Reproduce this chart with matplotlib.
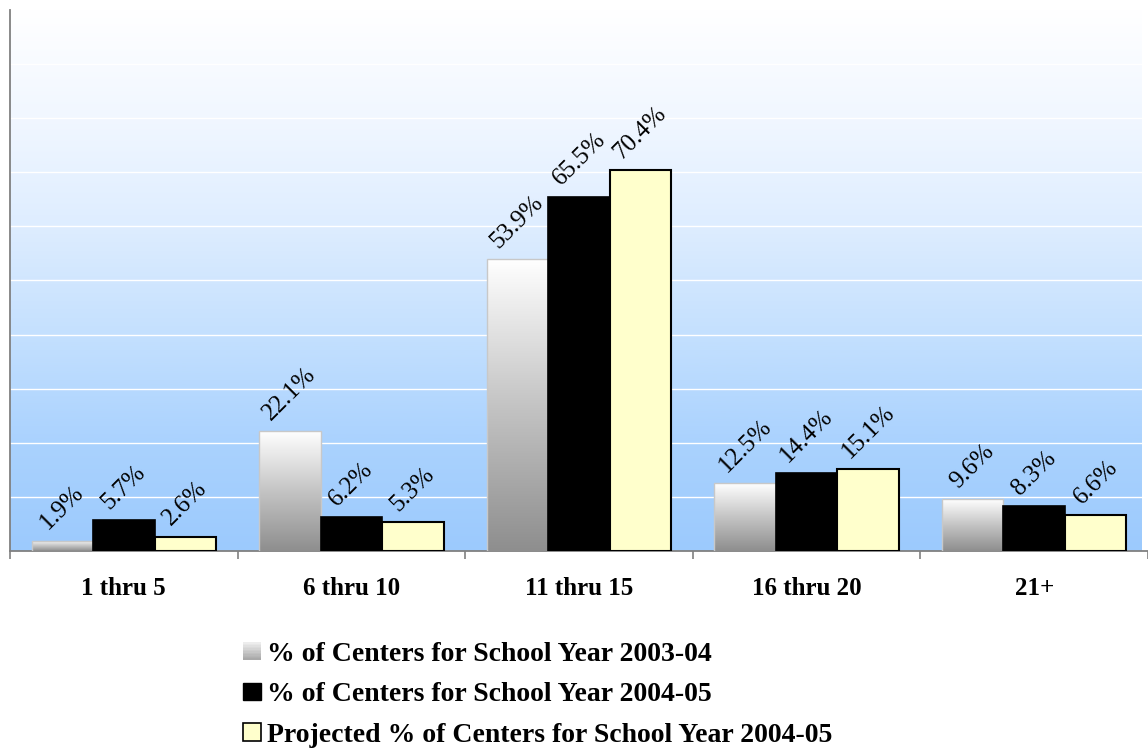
import numpy as np
import matplotlib
matplotlib.use('Agg')
import matplotlib.pyplot as plt
from matplotlib.colors import LinearSegmentedColormap
from matplotlib.patches import Patch, Rectangle
from matplotlib.legend_handler import HandlerBase

plt.rcParams['font.family'] = ['Liberation Serif', 'DejaVu Serif']

categories = ['1 thru 5', '6 thru 10', '11 thru 15', '16 thru 20', '21+']
centers_0304 = [1.9, 22.1, 53.9, 12.5, 9.6]
centers_0405 = [5.7, 6.2, 65.5, 14.4, 8.3]
projected_0405 = [2.6, 5.3, 70.4, 15.1, 6.6]
series_labels = ['% of Centers for School Year 2003-04',
                 '% of Centers for School Year 2004-05',
                 'Projected % of Centers for School Year 2004-05']

bg_cmap = LinearSegmentedColormap.from_list(
    'bg', [(0.0, '#9ccafd'), (0.2, '#aad2fe'), (0.4, '#c4e0fe'),
           (0.6, '#deedff'), (0.8, '#f1f7ff'), (1.0, '#ffffff')])
bar_cmap = LinearSegmentedColormap.from_list('bar', ['#8e8e8e', '#c4c4c4', '#ffffff'])


class GradientHandler(HandlerBase):
    # legend key drawn as a stack of thin strips, light at the top
    def create_artists(self, legend, orig_handle, xdescent, ydescent,
                       width, height, fontsize, trans):
        n = 12
        arts = []
        for i in range(n):
            c = bar_cmap(0.25 + 0.6 * i / (n - 1))
            arts.append(Rectangle((-xdescent, -ydescent + height * i / n),
                                  width, height / n + 0.3, facecolor=c,
                                  edgecolor='none', transform=trans))
        return arts


def main():
    fig = plt.figure(figsize=(11.48, 7.54), dpi=100)
    W, H = 1148, 754
    ax = fig.add_axes([10 / W, (H - 551) / H, 1138 / W, 541 / H])

    n = len(categories)
    x = np.arange(n)
    bw = 0.27
    xmax = -0.5 + 1138 / 229.0

    # background gradient
    grad = np.linspace(0, 1, 256).reshape(-1, 1)
    ax.imshow(grad, extent=[-0.5, xmax, 0, 100], origin='lower',
              aspect='auto', cmap=bg_cmap, zorder=-10)

    for yv in range(10, 100, 10):
        ax.axhline(yv, color='white', linewidth=1.0, zorder=1)

    b1 = ax.bar(x - bw, centers_0304, bw, facecolor='none',
                edgecolor='#c8c8c8', linewidth=1.0, zorder=3)
    for r in b1:
        x0, y0 = r.get_x(), r.get_y()
        im = ax.imshow(grad, extent=[x0, x0 + r.get_width(), y0, y0 + r.get_height()],
                       origin='lower', aspect='auto', cmap=bar_cmap, zorder=2)
        im.set_clip_path(r)
    b2 = ax.bar(x, centers_0405, bw, color='black', edgecolor='black',
                linewidth=1.2, zorder=3)
    b3 = ax.bar(x + bw, projected_0405, bw, color='#ffffcc', edgecolor='black',
                linewidth=1.5, zorder=3)

    for bars, vals in [(b1, centers_0304), (b2, centers_0405), (b3, projected_0405)]:
        for r, v in zip(bars, vals):
            ax.annotate(f'{v}%', (r.get_x() + r.get_width() / 2, r.get_height()),
                        xytext=(0, 5), textcoords='offset points',
                        ha='center', va='bottom', rotation=45,
                        fontsize=18, zorder=5)

    ax.set_xlim(-0.5, xmax)
    ax.set_ylim(0, 100)
    ax.set_yticks([])
    ax.set_xticks(np.arange(n + 1) - 0.5)
    ax.set_xticklabels([])
    ax.set_xticks(x, minor=True)
    ax.set_xticklabels(categories, minor=True, fontsize=18, fontweight='bold')
    ax.tick_params(axis='x', which='major', direction='out', length=6,
                   color='#808080', width=1.2)
    ax.tick_params(axis='x', which='minor', length=0, pad=19)
    for s in ['top', 'right']:
        ax.spines[s].set_visible(False)
    for s in ['left', 'bottom']:
        ax.spines[s].set_color('#808080')
        ax.spines[s].set_linewidth(1.3)

    handles = [Patch(), Patch(facecolor='black', edgecolor='black'),
               Patch(facecolor='#ffffcc', edgecolor='black', linewidth=1.2)]
    fig.legend(handles, series_labels, loc='upper left',
               bbox_to_anchor=(229 / W, (H - 628) / H), frameon=False,
               prop={'weight': 'bold', 'size': 20}, borderpad=0,
               handlelength=0.64, handleheight=0.6, handletextpad=0.22,
               labelspacing=0.56, handler_map={handles[0]: GradientHandler()})

    fig.savefig('out.png', dpi=100)


if __name__ == '__main__':
    main()
